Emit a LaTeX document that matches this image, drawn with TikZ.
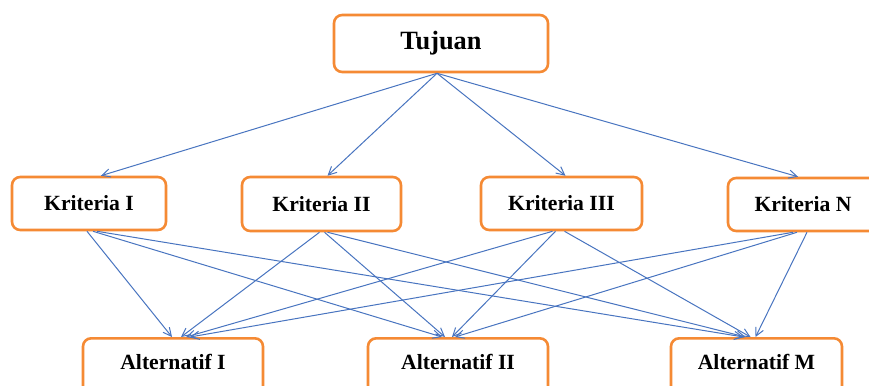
\documentclass[tikz,border=0pt]{standalone}
\usepackage{fontspec}
\setmainfont{Liberation Serif}
\usetikzlibrary{arrows.meta,calc}
\definecolor{boxorange}{RGB}{245,138,52}
\definecolor{linkblue}{RGB}{72,116,192}
\tikzset{
  box/.style={draw=boxorange, line width=2.2pt, rounded corners=7pt, fill=white,
    font=\bfseries\fontsize{18.5}{20}\selectfont, inner sep=0pt},
  goalbox/.style={box, font=\bfseries\fontsize{22.5}{25}\selectfont},
  altbox/.style={box, text height=31*0.03cm, text depth=1.2cm, anchor=north},
  link/.style={draw=linkblue, line width=0.85pt,
    -{Straight Barb[length=7pt,width=7pt]}}
}
\begin{document}
\begin{tikzpicture}[x=0.03cm,y=-0.03cm]
\clip (0,0) rectangle (869,385);
\fill[white] (0,0) rectangle (869,385);

% goal
\node[goalbox, minimum width=214*0.03cm, minimum height=57*0.03cm] (goal) at (441,43.5) {Tujuan};

% criteria
\node[box, minimum width=154*0.03cm, minimum height=53*0.03cm] (k1) at (89,203.5) {Kriteria I};
\node[box, minimum width=159*0.03cm, minimum height=54*0.03cm] (k2) at (321.5,204) {Kriteria II};
\node[box, minimum width=161*0.03cm, minimum height=53*0.03cm] (k3) at (561.5,203.5) {Kriteria III};
\node[box, minimum width=150*0.03cm, minimum height=53*0.03cm] (kn) at (803,204.5) {Kriteria N};

% alternatives (boxes run past the lower edge)
\node[altbox, minimum width=180*0.03cm] (a1) at (173,337) {Alternatif I};
\node[altbox, minimum width=180*0.03cm] (a2) at (458,337) {Alternatif II};
\node[altbox, minimum width=171*0.03cm] (am) at (756.5,337) {Alternatif M};

% goal to criteria
\coordinate (g0) at ($(goal.south)+(-4,0)$);
\draw[link] (g0) -- ($(k1.north)+(12,0)$);
\draw[link] (g0) -- ($(k2.north)+(6,0)$);
\draw[link] (g0) -- ($(k3.north)+(4,0)$);
\draw[link] (g0) -- ($(kn.north)+(-5,0)$);

% criteria to alternatives
\draw[link] ($(k1.south)+(-2,0)$) -- ($(a1.north)+(-1,0)$);
\draw[link] ($(k1.south)+(4,0)$)  -- ($(a2.north)+(-16,0)$);
\draw[link] ($(k1.south)+(8,0)$)  -- ($(am.north)+(-13,0)$);

\draw[link] ($(k2.south)+(-2,0)$) -- ($(a1.north)+(8,0)$);
\draw[link] ($(k2.south)+(3,0)$)  -- ($(a2.north)+(-13,0)$);
\draw[link] ($(k2.south)+(6,0)$)  -- ($(am.north)+(-11,0)$);

\draw[link] ($(k3.south)+(-9,0)$) -- ($(a1.north)+(13,0)$);
\draw[link] ($(k3.south)+(-6,0)$) -- ($(a2.north)+(-6,0)$);
\draw[link] ($(k3.south)+(3,0)$)  -- ($(am.north)+(-6,0)$);

\draw[link] ($(kn.south)+(-10,0)$) -- ($(a1.north)+(17,0)$);
\draw[link] ($(kn.south)+(-6,0)$)  -- ($(a2.north)+(-3,0)$);
\draw[link] ($(kn.south)+(4,0)$)   -- ($(am.north)+(-1,0)$);
\end{tikzpicture}
\end{document}
